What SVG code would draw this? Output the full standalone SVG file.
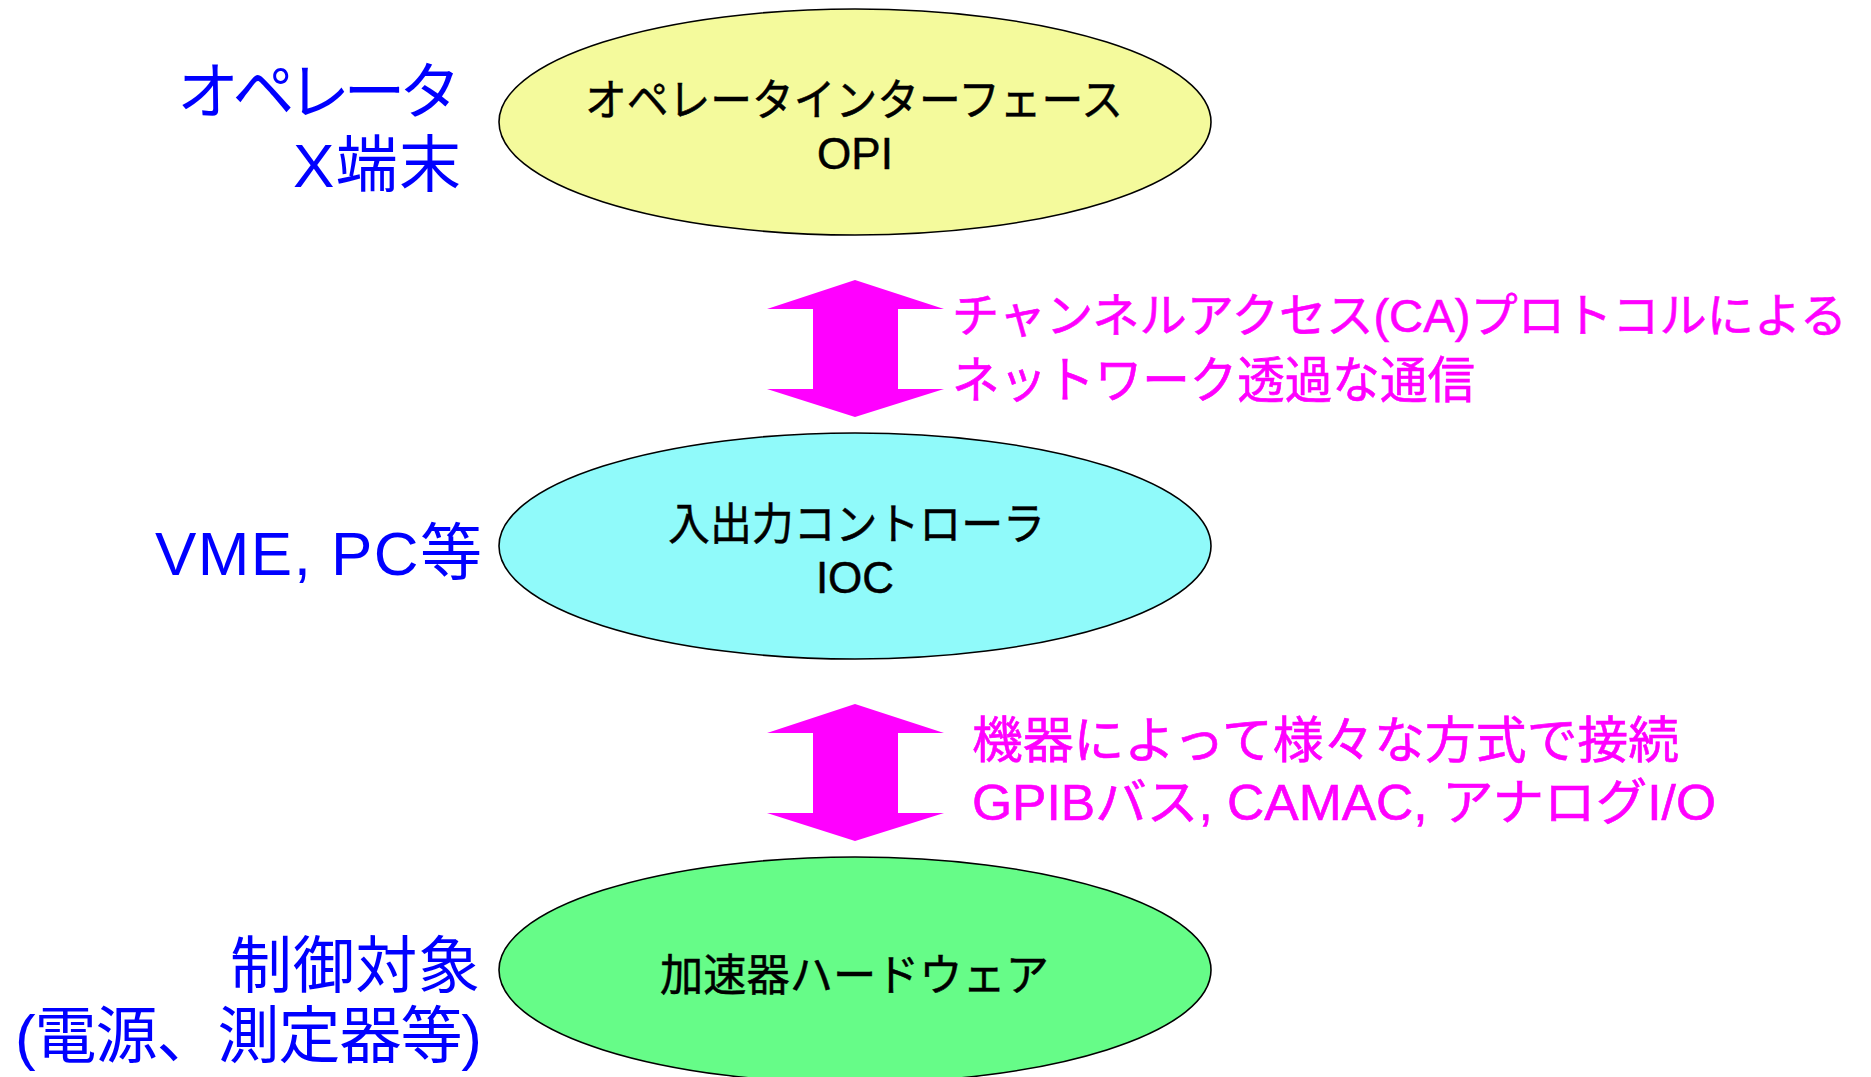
<svg xmlns="http://www.w3.org/2000/svg" width="1871" height="1077" viewBox="0 0 1871 1077">
  <style>
    text { font-family: 'Liberation Sans', 'Noto Sans CJK JP', sans-serif; }
    .node { stroke: #000000; stroke-width: 1.6; }
    .nlabel { font-size: 44px; fill: #000000; stroke: #000000; stroke-width: 0.5; }
    .side { font-size: 62px; fill: #0000FF; }
    .note { font-size: 50px; fill: #FF00FF; stroke: #FF00FF; stroke-width: 0.6; }
    .note-s { font-size: 47px; }
    .arrow { fill: #FF00FF; }
  </style>
  <rect x="0" y="0" width="1871" height="1077" fill="#FFFFFF"/>

  <g id="side-labels">
    <text class="side" x="177" y="114" textLength="284">オペレータ</text>
    <text class="side" x="293" y="187" textLength="168">X端末</text>
    <text class="side" x="155" y="575" textLength="327">VME, PC等</text>
    <text class="side" x="230" y="988" textLength="250">制御対象</text>
    <text class="side" x="15" y="1058" textLength="467">(電源、測定器等)</text>
  </g>

  <g id="connectors">
    <polygon class="arrow" points="855,280 944,309 898,309 898,389 944,389 855,417 767,389 813,389 813,309 767,309"/>
    <polygon class="arrow" points="855,704 944,733 898,733 898,813 944,813 855,841 767,813 813,813 813,733 767,733"/>
    <text class="note note-s" x="952" y="332" textLength="895" lengthAdjust="spacingAndGlyphs">チャンネルアクセス(CA)プロトコルによる</text>
    <text class="note" x="952" y="398" textLength="523" lengthAdjust="spacingAndGlyphs">ネットワーク透過な通信</text>
    <text class="note" x="972" y="758" textLength="707" lengthAdjust="spacingAndGlyphs">機器によって様々な方式で接続</text>
    <text class="note" x="972" y="820" textLength="744" lengthAdjust="spacingAndGlyphs">GPIBバス, CAMAC, アナログI/O</text>
  </g>

  <g id="node-opi">
    <ellipse class="node" cx="855" cy="122" rx="356" ry="113" fill="#F4FA9C"/>
    <text class="nlabel" x="585" y="116" textLength="538" lengthAdjust="spacingAndGlyphs">オペレータインターフェース</text>
    <text class="nlabel" x="855" y="169" text-anchor="middle">OPI</text>
  </g>

  <g id="node-ioc">
    <ellipse class="node" cx="855" cy="546" rx="356" ry="113" fill="#90FAFA"/>
    <text class="nlabel" x="668" y="540" textLength="377" lengthAdjust="spacingAndGlyphs">入出力コントローラ</text>
    <text class="nlabel" x="855" y="593" text-anchor="middle">IOC</text>
  </g>

  <g id="node-hw">
    <ellipse class="node" cx="855" cy="970" rx="356" ry="113" fill="#66FC88"/>
    <text class="nlabel" x="660" y="991" textLength="389" lengthAdjust="spacingAndGlyphs">加速器ハードウェア</text>
  </g>
</svg>
